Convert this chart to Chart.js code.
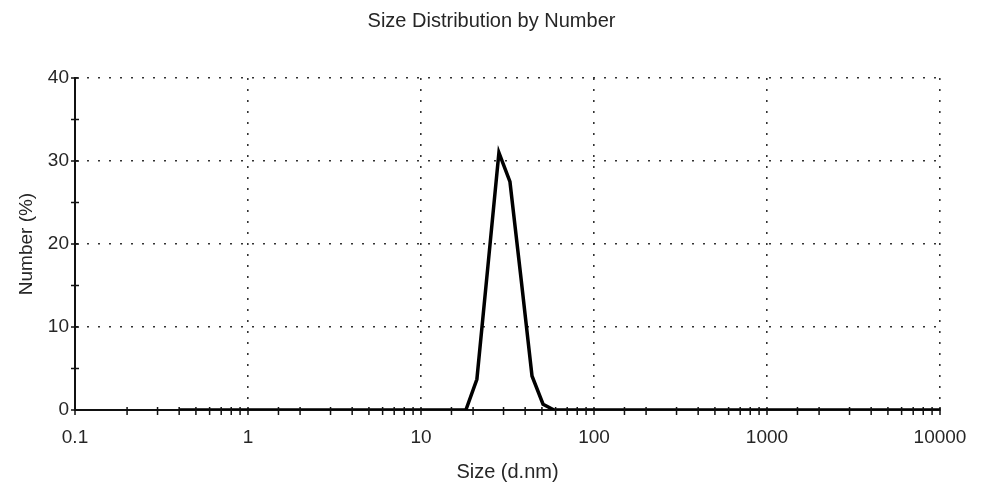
<!DOCTYPE html>
<html>
<head>
<meta charset="utf-8">
<script src="https://cdn.jsdelivr.net/npm/chart.js@4"></script>
<style>
  html, body { margin: 0; padding: 0; background: #ffffff; }
  #wrap { width: 983px; height: 484px; position: relative; }
</style>
</head>
<body>
<div id="wrap"><canvas id="c" width="983" height="484"></canvas></div>
<script>
// Size bins (d.nm)
const sizes = [0.4, 0.4632, 0.5365, 0.6213, 0.7195, 0.8332, 0.9649, 1.117, 1.294, 1.499,
  1.736, 2.01, 2.328, 2.696, 3.122, 3.615, 4.187, 4.849, 5.615, 6.503,
  7.531, 8.721, 10.1, 11.7, 13.54, 15.69, 18.17, 21.04, 24.36, 28.21,
  32.67, 37.84, 43.82, 50.75, 58.77, 68.06, 78.82, 91.28, 105.7, 122.4,
  141.8, 164.2, 190.1, 220.2, 255.0, 295.3, 342.0, 396.1, 458.7, 531.2,
  615.1, 712.4, 825.0, 955.4, 1106, 1281, 1484, 1718, 1990, 2305,
  2669, 3091, 3580, 4145, 4801, 5560, 6439, 7456, 8635, 10000];
// Number (%)
const numbers = [0, 0, 0, 0, 0, 0, 0, 0, 0, 0,
  0, 0, 0, 0, 0, 0, 0, 0, 0, 0,
  0, 0, 0, 0, 0, 0, 0, 3.7, 17.3, 31.0,
  27.5, 15.9, 4.1, 0.7, 0, 0, 0, 0, 0, 0,
  0, 0, 0, 0, 0, 0, 0, 0, 0, 0,
  0, 0, 0, 0, 0, 0, 0, 0, 0, 0,
  0, 0, 0, 0, 0, 0, 0, 0, 0, 0];
const xTickLabels = ['0.1', '1', '10', '100', '1000', '10000'];
const yTickLabels = [0, 10, 20, 30, 40];

const FONT = '"Liberation Sans", Arial, sans-serif';
const TEXT = '#262626';

function isDecade(v) {
  const l = Math.log10(v);
  return Math.abs(l - Math.round(l)) < 1e-9;
}

const crossTicks = {
  id: 'crossTicks',
  afterDraw(chart) {
    const ctx = chart.ctx;
    const xs = chart.scales.x, ys = chart.scales.y;
    ctx.save();
    ctx.strokeStyle = '#111';
    ctx.lineWidth = 1.5;
    ctx.beginPath();
    xs.ticks.forEach(t => {
      const px = xs.getPixelForValue(t.value);
      ctx.moveTo(px, ys.bottom - 3);
      ctx.lineTo(px, ys.bottom + 5);
    });
    ys.ticks.forEach(t => {
      const py = ys.getPixelForValue(t.value);
      ctx.moveTo(xs.left - 4, py);
      ctx.lineTo(xs.left + 4, py);
    });
    ctx.stroke();
    ctx.restore();
  }
};

new Chart(document.getElementById('c'), {
  type: 'line',
  data: {
    datasets: [{
      data: sizes.map((s, i) => ({ x: s, y: numbers[i] })),
      borderColor: '#000',
      borderWidth: 3.5,
      pointRadius: 0,
      tension: 0,
      fill: false,
      borderJoinStyle: 'miter'
    }]
  },
  options: {
    responsive: false,
    animation: false,
    devicePixelRatio: 1,
    layout: { padding: 0 },
    plugins: {
      legend: { display: false },
      tooltip: { enabled: false },
      title: {
        display: true,
        text: 'Size Distribution by Number',
        color: TEXT,
        font: { family: FONT, size: 20, weight: 'normal' },
        padding: { top: 9, bottom: 45 }
      }
    },
    scales: {
      x: {
        type: 'logarithmic',
        min: 0.1,
        max: 10000,
        afterFit: s => { s.height = 74; },
        grid: {
          drawTicks: false,
          color: ctx => (ctx.tick && isDecade(ctx.tick.value)) ? '#333' : 'rgba(0,0,0,0)',
          lineWidth: 1.6
        },
        border: { display: true, color: '#111', width: 2, dash: [2, 9] },
        ticks: {
          autoSkip: false,
          maxRotation: 0,
          padding: 16,
          color: TEXT,
          font: { family: FONT, size: 19 },
          callback: (v) => {
            if (!isDecade(v)) return '';
            const idx = Math.round(Math.log10(v)) + 1;
            return xTickLabels[idx];
          }
        },
        title: {
          display: true,
          text: 'Size (d.nm)',
          color: TEXT,
          font: { family: FONT, size: 20 },
          padding: { top: 2, bottom: 0 }
        }
      },
      y: {
        min: 0,
        max: 40,
        afterFit: s => { s.width = 75; },
        grid: {
          drawTicks: false,
          color: ctx => (ctx.tick && ctx.tick.value % 10 === 0 && ctx.tick.value > 0) ? '#333' : 'rgba(0,0,0,0)',
          lineWidth: 1.6
        },
        border: { display: true, color: '#111', width: 2, dash: [2, 9] },
        ticks: {
          stepSize: 5,
          autoSkip: false,
          padding: 6,
          color: TEXT,
          font: { family: FONT, size: 19 },
          callback: (v) => yTickLabels.includes(v) ? String(v) : ''
        },
        title: {
          display: true,
          text: 'Number (%)',
          color: TEXT,
          font: { family: FONT, size: 19 },
          padding: { top: 15, bottom: 0 }
        }
      },
      yRight: {
        position: 'right',
        min: 0,
        max: 40,
        afterFit: s => { s.width = 43; },
        grid: { display: false, drawOnChartArea: false },
        border: { display: false },
        ticks: { display: false }
      }
    }
  },
  plugins: [crossTicks]
});
</script>
</body>
</html>
